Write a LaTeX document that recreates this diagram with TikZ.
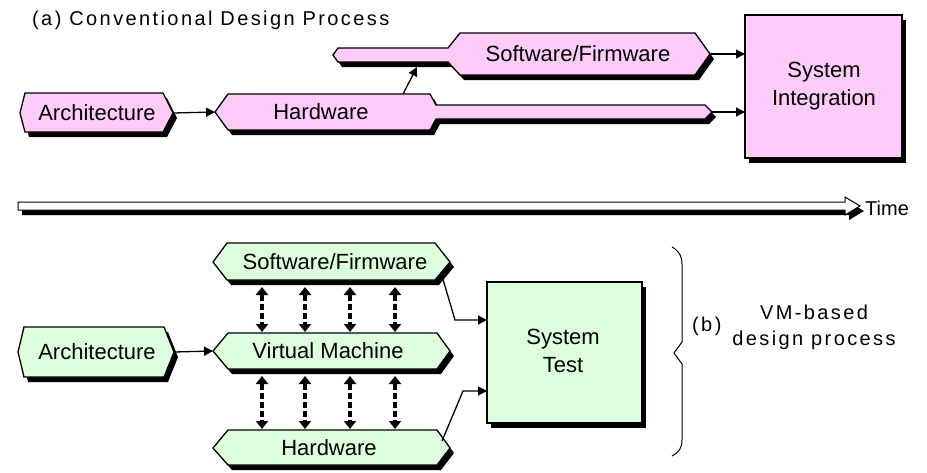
\documentclass[tikz,border=0pt]{standalone}
\usepackage{fontspec}
\setmainfont{Liberation Sans}
\newfontfamily\spacedfont[LetterSpace=12]{Liberation Sans}
\usetikzlibrary{arrows.meta,shadows}
\definecolor{pinkfill}{RGB}{255,204,250}
\definecolor{greenfill}{RGB}{221,255,221}
\begin{document}
\begin{tikzpicture}[x=1pt,y=-1pt,
  box/.style={draw=black, line width=1.3pt, line join=miter,
    drop shadow={shadow xshift=4pt, shadow yshift=-5pt, opacity=1, fill=black}},
  pinkbox/.style={box, fill=pinkfill},
  greenbox/.style={box, fill=greenfill},
  lbl/.style={font=\fontsize{22}{28}\selectfont, align=center, inner sep=0pt},
  captext/.style={font=\spacedfont\fontsize{20}{24}\selectfont, inner sep=0pt},
  arr/.style={line width=1.3pt, -{Triangle[length=9pt,width=9pt]}},
  darr/.style={line width=3.6pt, dash pattern=on 6pt off 3pt,
    {Triangle[length=8pt,width=12pt]}-{Triangle[length=8pt,width=12pt]}},
]
\useasboundingbox (0,0) rectangle (927,472);
\fill[white] (0,0) rectangle (927,472);

% ---------- (a) conventional ----------
\node[captext, anchor=west] (title) at (32,20) {(a) Conventional Design Process};

% Architecture (top)
\draw[pinkbox] (25,93) -- (163,93) -- (173,113) -- (163,132) -- (25,132) -- (20,113) -- cycle;
\node[lbl] (archA) at (97,113) {Architecture};
\coordinate (archAR) at (173,113);

% Hardware (top) with bar
\draw[pinkbox] (228,94) -- (430,94) -- (436,105) -- (705,105) -- (712,112) -- (705,119)
  -- (436,119) -- (430,130) -- (228,130) -- (215,112) -- cycle;
\node[lbl] (hwA) at (321,112) {Hardware};
\coordinate (hwAL) at (215,112);
\coordinate (hwAR) at (712,112);
\coordinate (hwAtop) at (403,94);

% Software/Firmware (top) with bar
\draw[pinkbox] (333,55) -- (338,48) -- (448,48) -- (460,33) -- (695,33) -- (710,54)
  -- (695,75) -- (460,75) -- (448,62) -- (338,62) -- cycle;
\node[lbl] (swA) at (578,54) {Software/Firmware};
\coordinate (swAR) at (710,54);
\coordinate (swAbar) at (417,67);

% System Integration
\draw[pinkbox] (745,15) rectangle (902,158);
\node[lbl] (sysint) at (824,86) {System\\Integration};
\coordinate (sysintA) at (745,54);
\coordinate (sysintB) at (745,112);

\draw[arr] (archAR) -- (hwAL);
\draw[arr] (hwAtop) -- (swAbar);
\draw[arr] (swAR) -- (sysintA);
\draw[arr] (hwAR) -- (sysintB);

% ---------- Time arrow ----------
\draw[box, fill=white, line width=1pt] (18,202) -- (845,202) -- (845,197) -- (860,206)
  -- (845,215) -- (845,210) -- (18,210) -- cycle;
\node[lbl, font=\fontsize{20}{24}\selectfont, anchor=west] (time) at (865,208) {Time};

% ---------- (b) VM-based ----------
% Architecture (bottom)
\draw[greenbox] (24,327) -- (164,327) -- (174,352) -- (164,377) -- (24,377) -- (18,352) -- cycle;
\node[lbl] (archB) at (97,352) {Architecture};
\coordinate (archBR) at (174,352);

% Software/Firmware (bottom)
\draw[greenbox] (227,243) -- (435,243) -- (450,262) -- (435,280) -- (227,280) -- (213,262) -- cycle;
\node[lbl] (swB) at (335,262) {Software/Firmware};
\coordinate (swBout) at (442,276);

% Virtual Machine
\draw[greenbox] (228,333) -- (437,333) -- (450,351) -- (437,369) -- (228,369) -- (213,351) -- cycle;
\node[lbl] (vm) at (328,351) {Virtual Machine};
\coordinate (vmL) at (213,351);

% Hardware (bottom)
\draw[greenbox] (228,430) -- (437,430) -- (450,448) -- (437,465) -- (228,465) -- (213,448) -- cycle;
\node[lbl] (hwB) at (329,448) {Hardware};
\coordinate (hwBout) at (442,441);

% System Test
\draw[greenbox] (487,282) rectangle (642,423);
\node[lbl] (systest) at (563,351) {System\\Test};
\coordinate (stA) at (487,320);
\coordinate (stB) at (487,391);
\coordinate (bendA) at (455,320);
\coordinate (bendB) at (463,391);

\draw[arr] (archBR) -- (vmL);
\draw[arr] (swBout) -- (bendA) -- (stA);
\draw[arr] (hwBout) -- (bendB) -- (stB);

% double dashed arrows
\foreach \x in {262,305,350,395}{
  \coordinate (u1\x) at (\x,287);
  \coordinate (u2\x) at (\x,332);
  \coordinate (l1\x) at (\x,376);
  \coordinate (l2\x) at (\x,429);
  \draw[darr] (u1\x) -- (u2\x);
  \draw[darr] (l1\x) -- (l2\x);
}

% brace
\draw[line width=1pt] (672,247) .. controls (679,251) and (682,256) .. (682,264) -- (682,342)
  -- (674,353) -- (682,364) -- (682,440) .. controls (682,448) and (679,452) .. (672,456);

\node[captext, anchor=west] (blabel) at (692,326) {(b)};
\node[captext] (vmbased) at (814,312) {VM-based};
\node[captext] (dproc) at (814,340) {design process};
\end{tikzpicture}
\end{document}
